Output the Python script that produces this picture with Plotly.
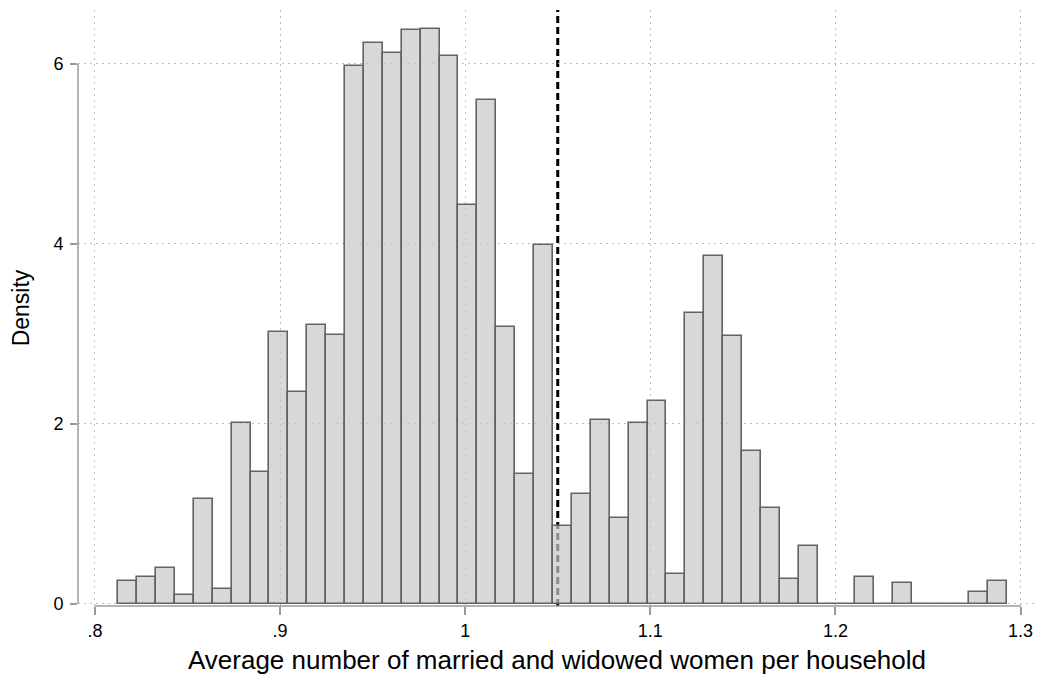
import plotly.graph_objects as go

# Histogram data
bin_start = 0.81256
bin_width = 0.010212
density = [0.25, 0.30, 0.40, 0.10, 1.16, 0.16, 2.01, 1.46, 3.02, 2.35,
           3.10, 2.99, 5.97, 6.23, 6.12, 6.37, 6.39, 6.09, 4.43, 5.60,
           3.08, 1.44, 3.99, 0.86, 1.22, 2.04, 0.95, 2.01, 2.25, 0.33,
           3.23, 3.86, 2.97, 1.70, 1.06, 0.28, 0.64, 0.0, 0.0, 0.30,
           0.0, 0.23, 0.0, 0.0, 0.0, 0.13, 0.25]
cutoff = 1.05
x_ticks = [0.8, 0.9, 1.0, 1.1, 1.2, 1.3]
x_tick_labels = [".8", ".9", "1", "1.1", "1.2", "1.3"]
y_ticks = [0, 2, 4, 6]
y_tick_labels = ["0", "2", "4", "6"]

centers = [bin_start + bin_width * (i + 0.5) for i in range(len(density))]

FONT = "Liberation Sans, Arial, Helvetica, sans-serif"
AXIS_GRAY = "#9a9a9a"
GRID = "#bdbdbd"

fig = go.Figure()
fig.add_trace(go.Bar(
    x=centers, y=density, width=bin_width,
    marker=dict(color="rgba(200,200,200,0.7)",
                line=dict(color="#636363", width=1.6)),
    showlegend=False, hoverinfo="x+y",
))

# dashed cutoff line (under the semi-transparent bars)
fig.add_shape(type="line", xref="x", yref="paper", x0=cutoff, x1=cutoff,
              y0=0.0, y1=1.0, layer="below",
              line=dict(color="black", width=3, dash="7px,4px"))
# axis lines spanning only the tick range
fig.add_shape(type="line", xref="x", yref="paper", x0=x_ticks[0], x1=x_ticks[-1],
              y0=0, y1=0, line=dict(color=AXIS_GRAY, width=1.5))
fig.add_shape(type="line", xref="paper", yref="y", x0=0, x1=0,
              y0=y_ticks[0], y1=y_ticks[-1], line=dict(color=AXIS_GRAY, width=1.5))

fig.update_layout(
    width=1038, height=675,
    margin=dict(l=78, r=2, t=10, b=69, autoexpand=False),
    paper_bgcolor="white", plot_bgcolor="white",
    font=dict(family=FONT, color="black"),
    bargap=0,
    xaxis=dict(
        range=[0.79084, 1.30836], tickvals=x_ticks, ticktext=x_tick_labels,
        ticks="outside", ticklen=8, tickwidth=1.5, tickcolor=AXIS_GRAY,
        showline=False, zeroline=False, automargin=False,
        showgrid=True, gridcolor=GRID, griddash="1.5px,4.5px", gridwidth=1,
        tickfont=dict(size=18),
        title=dict(text="Average number of married and widowed women per household",
                   font=dict(size=26), standoff=15),
    ),
    yaxis=dict(
        range=[-0.0256, 6.597], tickvals=y_ticks, ticktext=y_tick_labels,
        ticks="outside", ticklen=7, tickwidth=1.5, tickcolor=AXIS_GRAY,
        showline=False, zeroline=False, automargin=False,
        showgrid=True, gridcolor=GRID, griddash="1.5px,4.5px", gridwidth=1,
        tickfont=dict(size=18), ticklabelstandoff=3,
        title=dict(text="Density", font=dict(size=23), standoff=17),
    ),
)

fig.write_html("out.html", config={"displayModeBar": False},
               post_script="document.body.style.margin='0px';document.body.style.overflow='hidden';")
